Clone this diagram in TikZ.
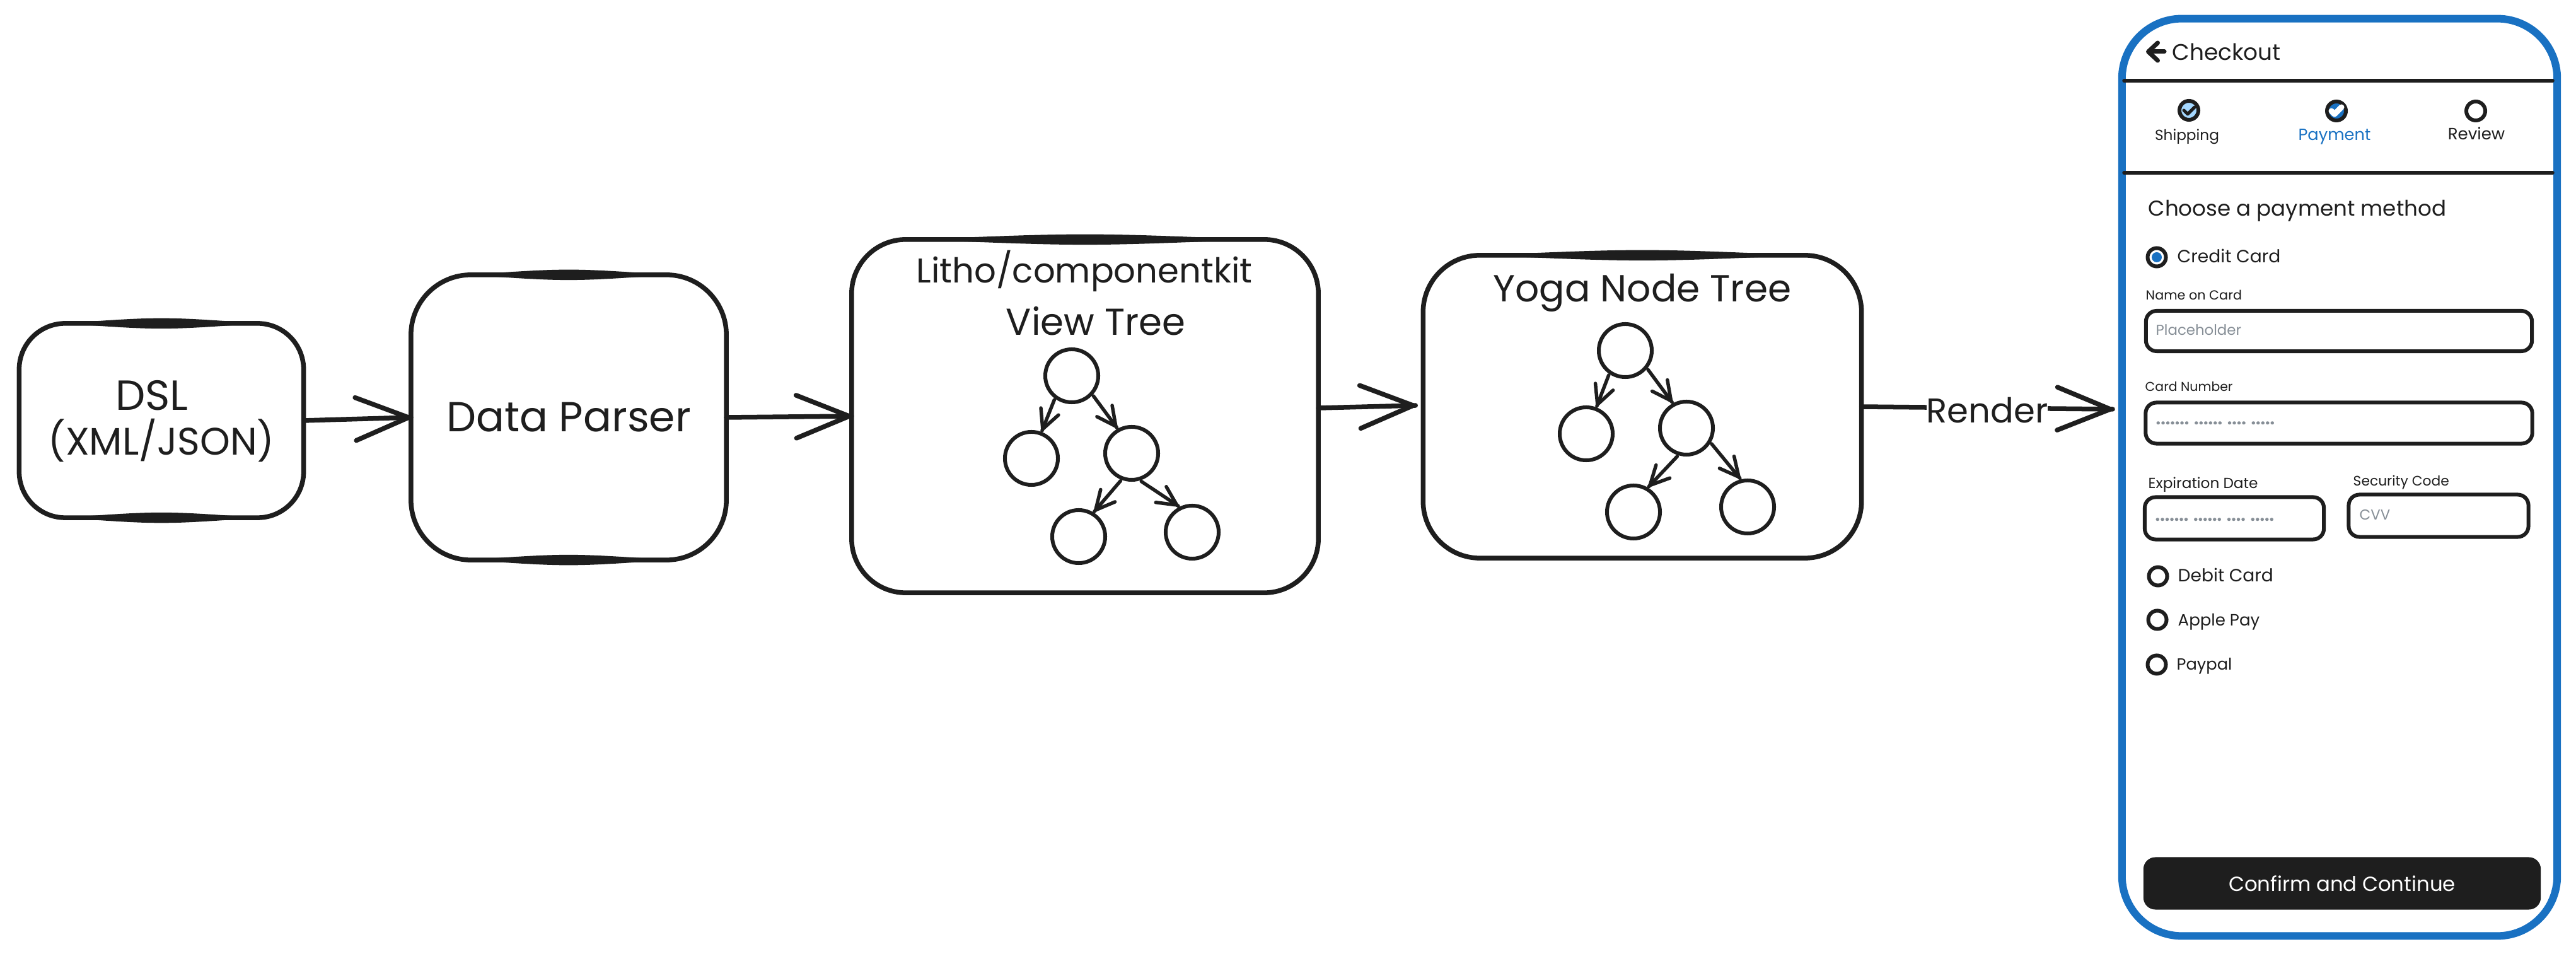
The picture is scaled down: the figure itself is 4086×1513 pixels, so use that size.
\documentclass[tikz,border=0pt]{standalone}
\usepackage{fontspec}
\setmainfont{Poppins}
\usetikzlibrary{arrows.meta}
\usetikzlibrary{decorations.markings}
\usetikzlibrary{calc,shapes.geometric}

\definecolor{ink}{HTML}{1E1E1E}
\definecolor{phoneblue}{HTML}{1971C2}
\definecolor{paleblue}{HTML}{A5D8FF}
\definecolor{hintgray}{HTML}{868E96}

\newcommand{\fsize}[1]{\fontsize{#1}{#1}\selectfont}
% thick part of a hand drawn edge
\newcommand{\inkbar}[2]{\fill[ink] (#1) .. controls ($(#1)!0.5!(#2)+(0,-11)$) .. (#2) .. controls ($(#1)!0.5!(#2)+(0,11)$) .. (#1);}

\tikzset{
	stagebox/.style={draw=ink, fill=white, line width=0.75mm, inner sep=0, outer sep=0, align=center, text=ink},
	treenode/.style={circle, draw=ink, line width=0.6mm, minimum size=0.84cm, inner sep=0, outer sep=0.05cm},
	bigtext/.style={text=ink, align=center, inner sep=0},
	flowarrow/.style={line width=0.75mm, color=ink, line cap=round, postaction={decorate},
		decoration={markings, mark=at position 1 with {\arrow{Straight Barb[length=8.4mm,width=6.8mm,round]}}}},
	treearrow/.style={line width=0.55mm, color=ink, line cap=round, postaction={decorate},
		decoration={markings, mark=at position 1 with {\arrow{Straight Barb[length=3mm,width=3mm,round]}}}},
	uitext/.style={text=ink, anchor=west, inner sep=0, font=\fsize{8}},
	smalllabel/.style={text=ink, anchor=west, inner sep=0, font=\fsize{6.2}},
	hint/.style={text=hintgray, anchor=west, inner sep=0, font=\fsize{6.5}},
	dotrow/.style={text=hintgray, anchor=west, inner sep=0, font=\bfseries\fsize{7.6}},
	inputbox/.style={draw=ink, line width=0.6mm, rounded corners=0.17cm, inner sep=0, outer sep=0},
	stepdot/.style={circle, draw=ink, line width=0.6mm, minimum size=0.3cm, inner sep=0},
	radiodot/.style={circle, draw=ink, fill=white, line width=0.6mm, minimum size=0.29cm, inner sep=0},
	sepline/.style={line width=0.55mm, color=ink, line cap=round}
}

\begin{document}
\begin{tikzpicture}[x=0.01cm,y=-0.01cm]
	\useasboundingbox (0,0) rectangle (4086,1513);
	
	% flow boxes
	\node[stagebox, minimum width=4.51cm, minimum height=3.08cm, rounded corners=0.73cm] (dsl) at (256,667) {};
	\node[bigtext, font=\fsize{19}] (dsltop) at (241,627) {DSL};
	\node[bigtext, font=\fsize{17.3}] (dslbottom) at (256,699) {(XML/JSON)};
	\node[stagebox, minimum width=5cm, minimum height=4.52cm, rounded corners=0.95cm, font=\fsize{18.9}] (parser) at (902,662) {Data Parser};
	\node[stagebox, minimum width=7.4cm, minimum height=5.6cm, rounded corners=0.86cm] (litho) at (1721,660) {};
	\node[stagebox, minimum width=6.95cm, minimum height=4.8cm, rounded corners=0.9cm] (yoga) at (2605,645) {};
	\inkbar{$(dsl.north west)+(70,0)$}{$(dsl.north east)+(-70,0)$}
	\inkbar{$(dsl.south west)+(70,0)$}{$(dsl.south east)+(-70,0)$}
	\inkbar{$(parser.north west)+(90,0)$}{$(parser.north east)+(-90,0)$}
	\inkbar{$(parser.south west)+(90,0)$}{$(parser.south east)+(-90,0)$}
	\inkbar{$(litho.north west)+(100,0)$}{$(litho.north east)+(-100,0)$}
	\inkbar{$(yoga.north west)+(90,0)$}{$(yoga.north east)+(-90,0)$}
	
	\node[bigtext, font=\fsize{15.5}] (lithotitle) at (1720,430) {Litho/componentkit};
	\node[bigtext, font=\fsize{16.9}] (lithosub) at (1738,509) {View Tree};
	\node[bigtext, font=\fsize{17}] (yogatitle) at (2605,464) {Yoga Node Tree};
	
	% first tree
	\node[treenode] (lroot) at (1700,596) {};
	\node[treenode] (lleft) at (1636,727) {};
	\node[treenode] (lright) at (1795,719) {};
	\node[treenode] (lrightl) at (1711,851) {};
	\node[treenode] (lrightr) at (1891,844) {};
	\draw[treearrow] (lroot.-126) -- (lleft.69);
	\draw[treearrow] (lroot.-43) -- (lright.120);
	\draw[treearrow] (lright.-112) -- (lrightl.58);
	\draw[treearrow] (lright.-71) -- (lrightr.118);
	
	% second tree
	\node[treenode] (yroot) at (2578,556) {};
	\node[treenode] (yleft) at (2516,688) {};
	\node[treenode] (yright) at (2675,679) {};
	\node[treenode] (yrightl) at (2591,812) {};
	\node[treenode] (yrightr) at (2772,804) {};
	\draw[treearrow] (yroot.-124) -- (yleft.69);
	\draw[treearrow] (yroot.-40) -- (yright.119);
	\draw[treearrow] (yright.-108) -- (yrightl.59);
	\draw[treearrow] (yright.-32) -- (yrightr.105);
	
	% flow arrows
	\coordinate (lithoin) at ($(yoga.west)+(-12,-2)$);
	\coordinate (phonein) at (3351,649);
	\draw[flowarrow] (dsl.east) -- (parser.west);
	\draw[flowarrow] (parser.east) -- (litho.west);
	\draw[flowarrow] (litho.2) -- (lithoin);
	\draw[flowarrow] (yoga.east) -- (phonein);
	\node[bigtext, font=\fsize{15.5}, fill=white] (render) at (3152,651) {Render};
	
	% phone frame
	\node[draw=phoneblue, line width=1.2mm, minimum width=6.9cm, minimum height=14.54cm, rounded corners=0.95cm, inner sep=0, outer sep=0] (phone) at (3711,757) {};
	\draw[line width=0.7mm, color=ink, line cap=round, -{Straight Barb[length=1.5mm,width=2.8mm,round]}] (3433,82) -- (3404,82);
	\node[uitext, font=\fsize{10.2}] (checkout) at (3445,82) {Checkout};
	\draw[sepline] (3369,128) -- (4049,128);
	\draw[sepline] (3369,274) -- (4049,274);
	
	% steps
	\node[stepdot, fill=paleblue] (stepone) at (3472,175) {};
	\draw[line width=0.5mm, color=ink, line cap=round, line join=round] (3464,175) -- (3470,181) -- (3481,170);
	\node[stepdot, fill=phoneblue] (steptwo) at (3706,176) {};
	\draw[line width=0.9mm, color=white, line cap=round, line join=round] (3698,176) -- (3703,181) -- (3714,170);
	\node[stepdot, fill=white] (stepthree) at (3927,176) {};
	\node[uitext, anchor=center, font=\fsize{6.6}] (shipping) at (3469,217) {Shipping};
	\node[uitext, anchor=center, text=phoneblue, font=\fsize{7.3}] (payment) at (3703,217) {Payment};
	\node[uitext, anchor=center, font=\fsize{7.4}] (review) at (3928,212) {Review};
	
	% payment form
	\node[uitext, font=\fsize{9.7}] (choose) at (3407,334) {Choose a payment method};
	\node[radiodot] (creditdot) at (3421,408) {};
	\fill[phoneblue] (creditdot) circle (0.08cm);
	\node[uitext] (credit) at (3453,406) {Credit Card};
	
	\node[smalllabel, font=\fsize{5.9}] (namelabel) at (3403,468) {Name on Card};
	\node[inputbox, minimum width=6.12cm, minimum height=0.64cm] (namefield) at (3710,525) {};
	\node[hint] (namehint) at (3419,523) {Placeholder};
	
	\node[smalllabel, font=\fsize{5.8}] (numberlabel) at (3402,613) {Card Number};
	\node[inputbox, minimum width=6.13cm, minimum height=0.65cm] (numberfield) at (3710,671) {};
	\node[dotrow] (numberhint) at (3419,671) {....... ...... .... .....};
	
	\node[smalllabel, font=\fsize{6.6}] (explabel) at (3407,769) {Expiration Date};
	\node[inputbox, minimum width=2.84cm, minimum height=0.67cm] (expfield) at (3544,822) {};
	\node[dotrow] (exphint) at (3418,824) {....... ...... .... .....};
	
	\node[smalllabel] (seclabel) at (3732,765) {Security Code};
	\node[inputbox, minimum width=2.85cm, minimum height=0.67cm] (secfield) at (3868,818) {};
	\node[hint] (sechint) at (3742,817) {CVV};
	
	\node[radiodot] (debitdot) at (3423,914) {};
	\node[uitext] (debit) at (3454,912) {Debit Card};
	\node[radiodot] (appledot) at (3422,983) {};
	\node[uitext, font=\fsize{7.4}] (apple) at (3454,986) {Apple Pay};
	\node[radiodot] (paypaldot) at (3421,1054) {};
	\node[uitext, font=\fsize{7.3}] (paypal) at (3452,1056) {Paypal};
	
	\node[fill=ink, text=white, minimum width=6.3cm, minimum height=0.83cm, rounded corners=0.19cm, inner sep=0, font=\fsize{9.2}] (confirm) at (3715,1401) {Confirm and Continue};
	
\end{tikzpicture}
\end{document}
